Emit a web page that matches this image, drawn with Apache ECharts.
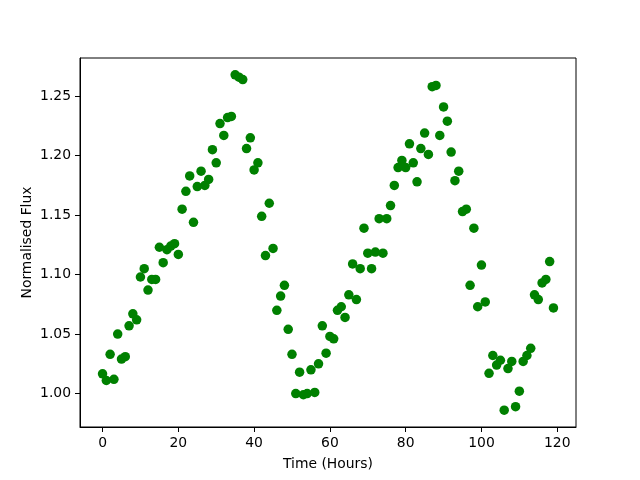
<!DOCTYPE html>
<html>
<head>
<meta charset="utf-8">
<script src="https://cdn.jsdelivr.net/npm/echarts@6/dist/echarts.min.js"></script>
<style>html,body{margin:0;padding:0;background:#fff}#c{width:640px;height:480px}</style>
</head>
<body>
<div id="c"></div>
<script>
var hours = [];
for (var i = 0; i < 120; i++) hours.push(i);
var flux = [
1.0166,1.011,1.033,1.012,1.050,1.029,1.031,1.057,1.067,1.062,
1.098,1.105,1.087,1.096,1.096,1.123,1.110,1.121,1.124,1.126,
1.117,1.155,1.170,1.183,1.144,1.174,1.187,1.175,1.180,1.205,
1.194,1.227,1.217,1.232,1.233,1.268,1.266,1.264,1.206,1.215,
1.188,1.194,1.149,1.116,1.160,1.122,1.070,1.082,1.091,1.054,
1.033,1.000,1.018,0.999,1.000,1.020,1.001,1.025,1.057,1.034,
1.048,1.046,1.070,1.073,1.064,1.083,1.109,1.079,1.105,1.139,
1.118,1.105,1.119,1.147,1.118,1.147,1.158,1.175,1.190,1.196,
1.190,1.210,1.194,1.178,1.206,1.219,1.201,1.258,1.259,1.217,
1.241,1.229,1.203,1.179,1.187,1.153,1.155,1.091,1.139,1.073,
1.108,1.077,1.017,1.032,1.024,1.028,0.986,1.021,1.027,0.989,
1.002,1.027,1.032,1.038,1.083,1.079,1.093,1.096,1.111,1.072
];
var xTicks = [0,20,40,60,80,100,120];
var yTicks = [1.00,1.05,1.10,1.15,1.20,1.25];

var pts = hours.map(function(h, i){ return [h, flux[i]]; });
var font = 'DejaVu Sans';
var chart = echarts.init(document.getElementById('c'), null, {renderer:'canvas'});
chart.setOption({
  animation: false,
  backgroundColor: '#fff',
  grid: {left: 80, right: 64, top: 58, bottom: 53, show: true, borderColor: '#000', borderWidth: 1, backgroundColor: 'transparent'},
  xAxis: {
    type: 'value', min: -5.95, max: 124.95,
    name: 'Time (Hours)', nameLocation: 'middle', nameGap: 30, nameMoveOverlap: false,
    nameTextStyle: {fontFamily: font, fontSize: 13.9, color: '#000'},
    axisLine: {show: true, onZero: false, lineStyle: {color: '#000', width: 1}},
    axisTick: {show: true, inside: false, length: 5, lineStyle: {color: '#000'}, customValues: xTicks},
    axisLabel: {fontFamily: font, fontSize: 13.9, color: '#000', margin: 9, customValues: xTicks, formatter: function(v){return String(Math.round(v));}},
    splitLine: {show: false}
  },
  yAxis: {
    type: 'value', min: 0.9719, max: 1.2821,
    name: 'Normalised Flux', nameLocation: 'middle', nameGap: 46, nameMoveOverlap: false,
    nameTextStyle: {fontFamily: font, fontSize: 13.9, color: '#000'},
    axisLine: {show: true, onZero: false, lineStyle: {color: '#000', width: 1}},
    axisTick: {show: true, inside: false, length: 5, lineStyle: {color: '#000'}, customValues: yTicks},
    axisLabel: {fontFamily: font, fontSize: 13.9, color: '#000', margin: 9, customValues: yTicks, formatter: function(v){return v.toFixed(2);}},
    splitLine: {show: false}
  },
  series: [{
    type: 'scatter', data: pts, symbol: 'circle', symbolSize: 9.5,
    itemStyle: {color: '#008000', opacity: 1}
  }]
});
</script>
</body>
</html>
